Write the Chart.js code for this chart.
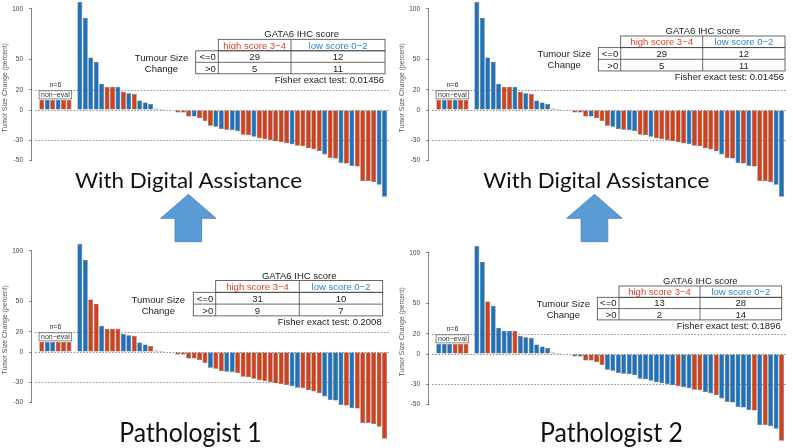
<!DOCTYPE html>
<html>
<head>
<meta charset="utf-8">
<script src="https://cdn.jsdelivr.net/npm/chart.js@4.4.1/dist/chart.umd.min.js"></script>
<style>
  body { margin: 0; width: 793px; height: 448px; background: #fff; position: relative; overflow: hidden; }
  canvas { position: absolute; }
  #overlay { position: absolute; left: 0; top: 0; pointer-events: none; }
</style>
</head>
<body>
<canvas id="c0" width="391" height="200"></canvas>
<canvas id="c1" width="391" height="200"></canvas>
<canvas id="c2" width="391" height="200"></canvas>
<canvas id="c3" width="391" height="200"></canvas>
<svg id="overlay" width="793" height="448" xmlns="http://www.w3.org/2000/svg"></svg>
<script>
"use strict";

//////// data ////////
// tumour size change (percent), sorted, evaluable patients
const tumourChange = [
  107, 91, 52, 47.5, 26, 23, 23, 23, 18, 16.5, 16, 9.5, 7.5, 6, 1.5, 1,
  0, 0, -2.5, -2.5, -6.5, -6.5, -8, -11, -15.5, -16.5, -19, -19.5, -20, -21,
  -24.5, -25, -26.5, -28, -29, -30, -31, -32, -33, -34, -35.5, -36, -37.5,
  -39, -40.5, -44, -47.5, -48, -52.5, -53, -55.5, -56, -70.5, -70.5, -71.5,
  -74, -86,
];
const nonEvalChange = [10, 10, 10, 10, 10, 10];
const yTicks = [100, 50, 20, 0, -30, -50];
const refLevels = [20, 0, -30];

// GATA6 score group per bar: H = high score 3-4, L = low score 0-2
const scoreDigital = [..."LLLLLHHLHLHLLLHL" + "HHHHHLHHHLLHLLHHLHHHHHHLHHHHHLHHLHLHHHHLL"];
const nonEvalDigital = [..."HLHLHH"];
const scorePath1 = [..."LLHHLHHHLLHLLHHH" + "HHHHHHHHLHHLLHHHHHHHHHHLLHHHHLLLLHLHHHHHH"];
const nonEvalPath1 = [..."HLLHHH"];
const scorePath2 = [..."LLHLLLLHLLLLLLLL" + "HLHLHHHHLLLLLLLLLLLLLHLLHHLLHLLLLLLHLHLLH"];
const nonEvalPath2 = [..."LLLHHH"];

const scoreHeads = ["high score 3\u22124", "low score 0\u22122"];
const sizeRows = ["<=0", ">0"];
const tableDigital = [[29, 12], [5, 11]];
const tablePath1 = [[31, 10], [9, 7]];
const tablePath2 = [[13, 28], [2, 14]];
const fisherDigital = "0.01456";
const fisherPath1 = "0.2008";
const fisherPath2 = "0.1896";

//////// look ////////
const RED = "#D2401C";
const BLUE = "#1D72BD";
const RED_TXT = "#DB4427";
const BLUE_TXT = "#2B86CB";
const AXIS_W = 32;      // y axis box width
const PX_X = 5.44;      // px per bar slot
const PX_Y = 1.01;      // px per percent
const ZERO_Y = 110;     // zero line inside canvas
const X_MIN = -1.8;

const panels = [
  { id: "c0", left: 0, top: 0, score: scoreDigital, nonEval: nonEvalDigital,
    table: tableDigital, fisher: fisherDigital,
    grid: { xs: [195.7, 218.3, 291, 385], top: 39.3, h: 11.5 }, sizeAt: [161.5, 57],
    caption: { text: "With Digital Assistance", x: 75, y: 188, len: 227, size: 21 } },
  { id: "c1", left: 397, top: 0, score: scoreDigital, nonEval: nonEvalDigital,
    table: tableDigital, fisher: fisherDigital,
    grid: { xs: [598.3, 620.7, 702.7, 785], top: 36, h: 11.65 }, sizeAt: [564.2, 53],
    caption: { text: "With Digital Assistance", x: 483.3, y: 188, len: 226, size: 21 } },
  { id: "c2", left: 0, top: 242, score: scorePath1, nonEval: nonEvalPath1,
    table: tablePath1, fisher: fisherPath1,
    grid: { xs: [193.3, 215.7, 299.3, 382.7], top: 280.5, h: 11.8 }, sizeAt: [158.3, 299.3],
    caption: { text: "Pathologist 1", x: 119.3, y: 441.7, len: 142.4, size: 26 } },
  { id: "c3", left: 397, top: 244, score: scorePath2, nonEval: nonEvalPath2,
    table: tablePath2, fisher: fisherPath2,
    grid: { xs: [597.3, 619, 700, 781.7], top: 286, h: 11.3 }, sizeAt: [563.3, 303.3],
    caption: { text: "Pathologist 2", x: 540, y: 441.7, len: 143, size: 26 } },
];

//////// chart plugin: reference lines, axis line, non-eval box, y title ////////
const waterfallDecor = {
  id: "waterfallDecor",
  beforeDatasetsDraw(chart) {
    const { ctx, chartArea, scales: { y } } = chart;
    ctx.save();
    ctx.strokeStyle = "#7a7a7a";
    ctx.lineWidth = 0.8;
    ctx.setLineDash([1.6, 1.6]);
    refLevels.forEach((v) => {
      const py = Math.round(y.getPixelForValue(v)) + 0.5;
      ctx.beginPath();
      ctx.moveTo(chartArea.left + 3, py);
      ctx.lineTo(chartArea.right - 1, py);
      ctx.stroke();
    });
    ctx.restore();
  },
  afterDatasetsDraw(chart) {
    const { ctx, chartArea, scales: { x, y } } = chart;
    ctx.save();
    // axis line 100 .. -50
    ctx.strokeStyle = "#666";
    ctx.lineWidth = 0.8;
    ctx.beginPath();
    ctx.moveTo(chartArea.left - 0.5, y.getPixelForValue(yTicks[0]));
    ctx.lineTo(chartArea.left - 0.5, y.getPixelForValue(yTicks[yTicks.length - 1]));
    ctx.stroke();

    // non-eval box
    const bx0 = x.getPixelForValue(-0.5);
    const bx1 = x.getPixelForValue(nonEvalChange.length - 0.5);
    const by0 = y.getPixelForValue(19);
    const by1 = y.getPixelForValue(11);
    ctx.fillStyle = "#fff";
    ctx.fillRect(bx0, by0, bx1 - bx0, by1 - by0);
    ctx.strokeStyle = "#555";
    ctx.lineWidth = 0.7;
    ctx.strokeRect(bx0, by0, bx1 - bx0, by1 - by0);
    ctx.fillStyle = "#333";
    ctx.font = "7px 'Liberation Sans'";
    ctx.textAlign = "center";
    ctx.textBaseline = "middle";
    ctx.fillText("non\u2212eval", (bx0 + bx1) / 2, (by0 + by1) / 2);
    ctx.fillText("n=" + nonEvalChange.length, (bx0 + bx1) / 2, y.getPixelForValue(24.5));

    // y title
    ctx.translate(5, y.getPixelForValue(22));
    ctx.rotate(-Math.PI / 2);
    ctx.fillStyle = "#555";
    ctx.font = "6.8px 'Liberation Sans'";
    ctx.fillText("Tumor Size Change (percent)", 0, 0);
    ctx.restore();
  },
};

//////// charts ////////
const makeChart = function (p) {
  const canvas = document.getElementById(p.id);
  canvas.style.left = p.left + "px";
  canvas.style.top = p.top + "px";
  const points = nonEvalChange
    .map((v, i) => ({ x: i, y: v }))
    .concat(tumourChange.map((v, i) => ({ x: i + nonEvalChange.length + 1, y: v })));
  const groups = p.nonEval.concat(p.score);
  const colors = groups.map((g) => (g === "H" ? RED : BLUE));
  const yMax = ZERO_Y / PX_Y;
  const yMin = yMax - canvas.height / PX_Y;

  return new Chart(canvas, {
    type: "bar",
    data: {
      datasets: [
        {
          data: points,
          backgroundColor: colors,
          borderColor: "#5e5e5e",
          borderWidth: 0.6,
          borderSkipped: false,
          barPercentage: 0.9,
          categoryPercentage: 1,
        },
      ],
    },
    options: {
      responsive: false,
      animation: false,
      layout: { padding: 0 },
      plugins: { legend: { display: false }, tooltip: { enabled: false } },
      scales: {
        x: {
          type: "linear",
          display: false,
          offset: false,
          min: X_MIN,
          max: X_MIN + (canvas.width - AXIS_W) / PX_X,
        },
        y: {
          min: yMin,
          max: yMax,
          afterBuildTicks: (s) => {
            s.ticks = yTicks.map((v) => ({ value: v }));
          },
          afterFit: (s) => {
            s.width = AXIS_W;
            s.paddingTop = 0;
            s.paddingBottom = 0;
          },
          border: { display: false },
          grid: {
            drawOnChartArea: false,
            drawTicks: true,
            tickLength: 3,
            tickColor: "#666",
            lineWidth: 0.8,
          },
          ticks: {
            autoSkip: false,
            padding: 6,
            color: "#444",
            font: { family: "Liberation Sans", size: 6.5 },
          },
        },
      },
    },
    plugins: [waterfallDecor],
  });
};

panels.forEach(makeChart);

//////// overlay: tables, captions, arrows ////////
const svgText = (x, y, str, opts = {}) =>
  `<text x="${x}" y="${y}" font-family="${opts.family || "Liberation Sans"}" font-size="${opts.size || 9.5}" fill="${opts.color || "#222"}" text-anchor="${opts.anchor || "middle"}" dominant-baseline="${opts.base || "central"}"${opts.len ? ` textLength="${opts.len}" lengthAdjust="spacingAndGlyphs"` : ""}>${str}</text>`;

const tableSvg = function (p) {
  const [x0, x1, x2, x3] = p.grid.xs;
  const t = p.grid.top;
  const h = p.grid.h;
  let s = "";
  s += `<g stroke="#444" stroke-width="0.8" fill="none">`;
  s += `<rect x="${x1}" y="${t}" width="${x3 - x1}" height="${h}"/>`;
  s += `<line x1="${x2}" y1="${t}" x2="${x2}" y2="${t + 3 * h}"/>`;
  s += `<rect x="${x0}" y="${t + h}" width="${x3 - x0}" height="${2 * h}"/>`;
  s += `<line x1="${x0}" y1="${t + 2 * h}" x2="${x3}" y2="${t + 2 * h}"/>`;
  s += `<line x1="${x1}" y1="${t + h}" x2="${x1}" y2="${t + 3 * h}"/>`;
  s += `</g>`;
  s += svgText((x1 + x3) / 2, t - 5.5, "GATA6 IHC score");
  s += svgText((x1 + x2) / 2, t + h / 2, scoreHeads[0], { color: RED_TXT });
  s += svgText((x2 + x3) / 2, t + h / 2, scoreHeads[1], { color: BLUE_TXT });
  sizeRows.forEach((lab, r) => {
    const cy = t + h * (r + 1.5);
    s += svgText(x1 - 2.5, cy, lab.replace("<", "&lt;").replace(">", "&gt;"), { anchor: "end" });
    s += svgText((x1 + x2) / 2, cy, p.table[r][0]);
    s += svgText((x2 + x3) / 2, cy, p.table[r][1]);
  });
  s += svgText(x3 - 1, t + 3 * h + 5.6, "Fisher exact test: " + p.fisher, { anchor: "end" });
  s += svgText(p.sizeAt[0], p.sizeAt[1], "Tumour Size");
  s += svgText(p.sizeAt[0], p.sizeAt[1] + 11, "Change");
  const c = p.caption;
  s += svgText(c.x, c.y, c.text, {
    family: "Lato", size: c.size, color: "#111", anchor: "start", base: "alphabetic", len: c.len,
  });
  return s;
};

const arrowSvg = function (cx) {
  const pts = [
    [0, 194.3], [27.6, 218.3], [13.3, 218.3], [13.3, 241.7],
    [-13.4, 241.7], [-13.4, 218.3], [-27.7, 218.3],
  ].map(([dx, y]) => `${cx + dx},${y}`).join(" ");
  return `<polygon points="${pts}" fill="#5B9BD5" stroke="#4A7EBB" stroke-width="0.8"/>`;
};

document.getElementById("overlay").innerHTML =
  panels.map(tableSvg).join("") + arrowSvg(188.4) + arrowSvg(594.5);
</script>
</body>
</html>
